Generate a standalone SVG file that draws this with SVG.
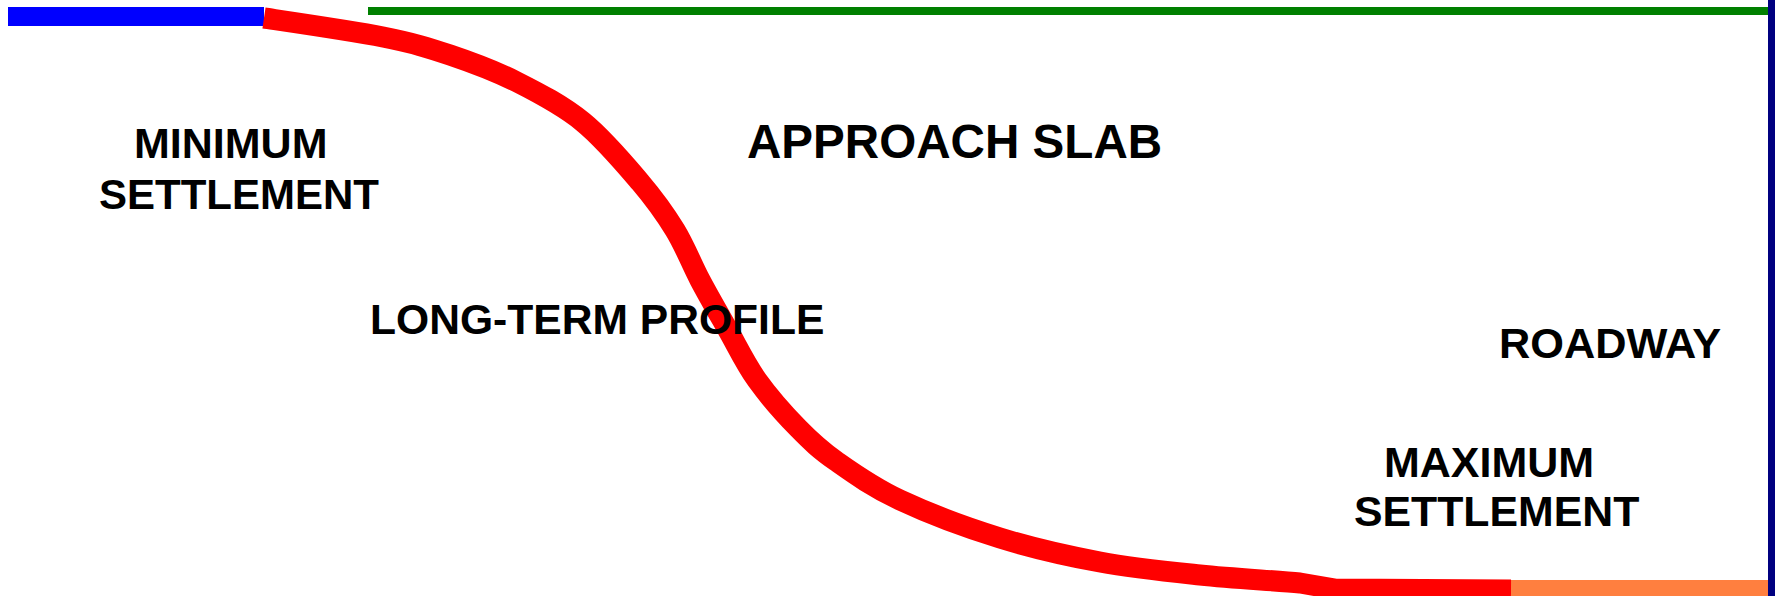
<svg xmlns="http://www.w3.org/2000/svg" width="1775" height="596" viewBox="0 0 1775 596">
<style>
.lbl{font-family:"Liberation Sans",Arial,Helvetica,sans-serif;font-weight:bold;font-size:43px;fill:#000}
</style>
<rect x="0" y="0" width="1775" height="596" fill="#fff"/>
<g id="lines">
<rect id="min-line" x="8" y="7" width="256" height="19" fill="#0000ff"/>
<rect id="slab-line" x="368" y="7" width="1400" height="8" fill="#008000"/>
<rect id="roadway-line" x="1511" y="580" width="257" height="16" fill="#ff7f3f"/>
<rect id="edge" x="1768" y="0" width="7" height="596" fill="#000080"/>
<path id="profile" fill="none" stroke="#ff0000" stroke-width="21" stroke-linejoin="round" d="M264,18 C284,21 352,30.8 383,37 C414,43.2 427.7,47.5 450,55 C472.3,62.5 494.8,70.8 517,82 C539.2,93.2 562.5,105.3 583,122 C603.5,138.7 624.7,164 640,182 C655.3,200 665,213.7 675,230 C685,246.3 691.2,263.3 700,280 C708.8,296.7 718.5,313.3 728,330 C737.5,346.7 745.3,363.7 757,380 C768.7,396.3 784.8,414.5 798,428 C811.2,441.5 819,449 836,461 C853,473 872.7,487.2 900,500 C927.3,512.8 966.7,527.7 1000,538 C1033.3,548.3 1066.7,555.8 1100,562 C1133.3,568.2 1166.7,571.5 1200,575 C1233.3,578.5 1273.3,580.5 1300,583 L1335,589 L1511,590"/>
</g>
<g id="labels">
<g id="min-settlement"><text class="lbl" x="134" y="158">MINIMUM</text><text class="lbl" x="99" y="209" style="font-size:42px">SETTLEMENT</text></g>
<g id="approach-slab"><text class="lbl" x="747" y="158" style="font-size:47.6px">APPROACH SLAB</text></g>
<g id="long-term"><text class="lbl" x="370" y="334" style="font-size:42.6px">LONG-TERM PROFILE</text></g>
<g id="roadway"><text class="lbl" x="1499" y="358" style="font-size:43.3px">ROADWAY</text></g>
<g id="max-settlement"><text class="lbl" x="1384" y="477">MAXIMUM</text><text class="lbl" x="1354" y="526" style="font-size:42.8px">SETTLEMENT</text></g>
</g>
</svg>
